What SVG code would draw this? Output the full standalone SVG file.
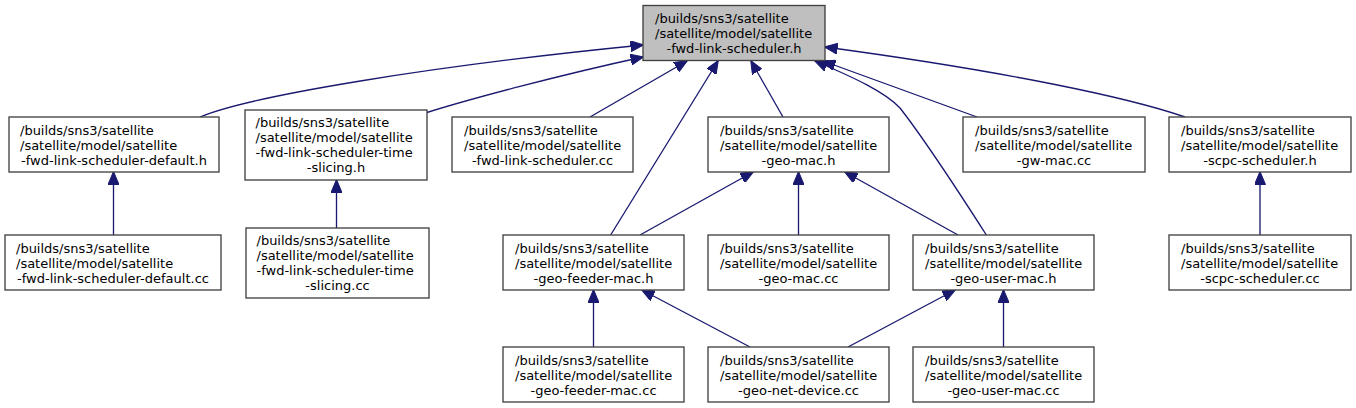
<svg xmlns="http://www.w3.org/2000/svg" width="1356" height="408" viewBox="0 0 1356 408">
<style>
  .box { fill: #ffffff; stroke: #404040; stroke-width: 1.33; }
  .root { fill: #bfbfbf; stroke: #404040; stroke-width: 1.33; }
  text { font-family: "DejaVu Sans", "Liberation Sans", sans-serif; font-size: 13px; fill: #000000; }
  .c { text-anchor: middle; }
  .e { fill: none; stroke: #191970; stroke-width: 1.33; marker-end: url(#arr); }
</style>
<defs>
  <marker id="arr" viewBox="0 0 13 11" refX="12.5" refY="5.5" markerWidth="13" markerHeight="11" markerUnits="userSpaceOnUse" orient="auto">
    <path d="M0,0 L13,5.5 L0,11 z" fill="#191970" stroke="#191970" stroke-width="1"/>
  </marker>
</defs>
<rect width="1356" height="408" fill="#ffffff"/>

<g id="connectors">
  <path class="e" d="M200,117 C250,96 430,66 643,45"/>
  <path class="e" d="M427,112.5 C470,99 560,75 643,57"/>
  <path class="e" d="M590,117 L687,61"/>
  <path class="e" d="M610,236 L718,61"/>
  <path class="e" d="M783,117 L751,61"/>
  <path class="e" d="M987,236 C955,186 925,140 900,108 C885,92 855,78 815,61"/>
  <path class="e" d="M977,117 L823,61"/>
  <path class="e" d="M1185,117 C1130,98 1010,72 825,47"/>
  <path class="e" d="M113.5,236 L113.5,172"/>
  <path class="e" d="M336.5,228 L336.5,180"/>
  <path class="e" d="M640,235 L753,172"/>
  <path class="e" d="M798.5,235 L798.5,172"/>
  <path class="e" d="M958,235 L845,172"/>
  <path class="e" d="M1260,235 L1260,172"/>
  <path class="e" d="M593.5,347 L593.5,290"/>
  <path class="e" d="M750,347 L642,290"/>
  <path class="e" d="M848,347 L955,290"/>
  <path class="e" d="M1003.5,347 L1003.5,290"/>
</g>

<g id="node-root">
  <rect class="root" x="643" y="5.5" width="182" height="55"/>
  <text x="655" y="23">/builds/sns3/satellite</text>
  <text x="655" y="38">/satellite/model/satellite</text>
  <text class="c" x="734" y="53">-fwd-link-scheduler.h</text>
</g>

<g id="node-default-h">
  <rect class="box" x="9" y="117" width="210" height="55"/>
  <text x="20" y="134.5">/builds/sns3/satellite</text>
  <text x="20" y="149.5">/satellite/model/satellite</text>
  <text class="c" x="114" y="164.5">-fwd-link-scheduler-default.h</text>
</g>

<g id="node-time-slicing-h">
  <rect class="box" x="245" y="110" width="182" height="70"/>
  <text x="255.5" y="127">/builds/sns3/satellite</text>
  <text x="255.5" y="142">/satellite/model/satellite</text>
  <text x="255.5" y="157">-fwd-link-scheduler-time</text>
  <text class="c" x="336" y="172">-slicing.h</text>
</g>

<g id="node-scheduler-cc">
  <rect class="box" x="452" y="117" width="181" height="55"/>
  <text x="464" y="134.5">/builds/sns3/satellite</text>
  <text x="464" y="149.5">/satellite/model/satellite</text>
  <text class="c" x="542.5" y="164.5">-fwd-link-scheduler.cc</text>
</g>

<g id="node-geo-mac-h">
  <rect class="box" x="708" y="117" width="181" height="55"/>
  <text x="720" y="134.5">/builds/sns3/satellite</text>
  <text x="720" y="149.5">/satellite/model/satellite</text>
  <text class="c" x="798.5" y="164.5">-geo-mac.h</text>
</g>

<g id="node-gw-mac-cc">
  <rect class="box" x="963" y="117" width="182" height="55"/>
  <text x="975" y="134.5">/builds/sns3/satellite</text>
  <text x="975" y="149.5">/satellite/model/satellite</text>
  <text class="c" x="1054" y="164.5">-gw-mac.cc</text>
</g>

<g id="node-scpc-scheduler-h">
  <rect class="box" x="1169" y="117" width="182" height="55"/>
  <text x="1181" y="134.5">/builds/sns3/satellite</text>
  <text x="1181" y="149.5">/satellite/model/satellite</text>
  <text class="c" x="1260" y="164.5">-scpc-scheduler.h</text>
</g>

<g id="node-default-cc">
  <rect class="box" x="5" y="235" width="216" height="55"/>
  <text x="16" y="252.5">/builds/sns3/satellite</text>
  <text x="16" y="267.5">/satellite/model/satellite</text>
  <text class="c" x="113" y="282.5">-fwd-link-scheduler-default.cc</text>
</g>

<g id="node-time-slicing-cc">
  <rect class="box" x="246" y="228" width="183" height="70"/>
  <text x="256.5" y="245">/builds/sns3/satellite</text>
  <text x="256.5" y="260">/satellite/model/satellite</text>
  <text x="256.5" y="275">-fwd-link-scheduler-time</text>
  <text class="c" x="337.5" y="290">-slicing.cc</text>
</g>

<g id="node-geo-feeder-mac-h">
  <rect class="box" x="503" y="235" width="181" height="55"/>
  <text x="515" y="252.5">/builds/sns3/satellite</text>
  <text x="515" y="267.5">/satellite/model/satellite</text>
  <text class="c" x="593.5" y="282.5">-geo-feeder-mac.h</text>
</g>

<g id="node-geo-mac-cc">
  <rect class="box" x="708" y="235" width="181" height="55"/>
  <text x="720" y="252.5">/builds/sns3/satellite</text>
  <text x="720" y="267.5">/satellite/model/satellite</text>
  <text class="c" x="798.5" y="282.5">-geo-mac.cc</text>
</g>

<g id="node-geo-user-mac-h">
  <rect class="box" x="913" y="235" width="181" height="55"/>
  <text x="925" y="252.5">/builds/sns3/satellite</text>
  <text x="925" y="267.5">/satellite/model/satellite</text>
  <text class="c" x="1003.5" y="282.5">-geo-user-mac.h</text>
</g>

<g id="node-scpc-scheduler-cc">
  <rect class="box" x="1169" y="235" width="182" height="55"/>
  <text x="1181" y="252.5">/builds/sns3/satellite</text>
  <text x="1181" y="267.5">/satellite/model/satellite</text>
  <text class="c" x="1260" y="282.5">-scpc-scheduler.cc</text>
</g>

<g id="node-geo-feeder-mac-cc">
  <rect class="box" x="503" y="347" width="181" height="55"/>
  <text x="515" y="364.5">/builds/sns3/satellite</text>
  <text x="515" y="379.5">/satellite/model/satellite</text>
  <text class="c" x="593.5" y="394.5">-geo-feeder-mac.cc</text>
</g>

<g id="node-geo-net-device-cc">
  <rect class="box" x="708" y="347" width="181" height="55"/>
  <text x="720" y="364.5">/builds/sns3/satellite</text>
  <text x="720" y="379.5">/satellite/model/satellite</text>
  <text class="c" x="798.5" y="394.5">-geo-net-device.cc</text>
</g>

<g id="node-geo-user-mac-cc">
  <rect class="box" x="913" y="347" width="181" height="55"/>
  <text x="925" y="364.5">/builds/sns3/satellite</text>
  <text x="925" y="379.5">/satellite/model/satellite</text>
  <text class="c" x="1003.5" y="394.5">-geo-user-mac.cc</text>
</g>
</svg>
